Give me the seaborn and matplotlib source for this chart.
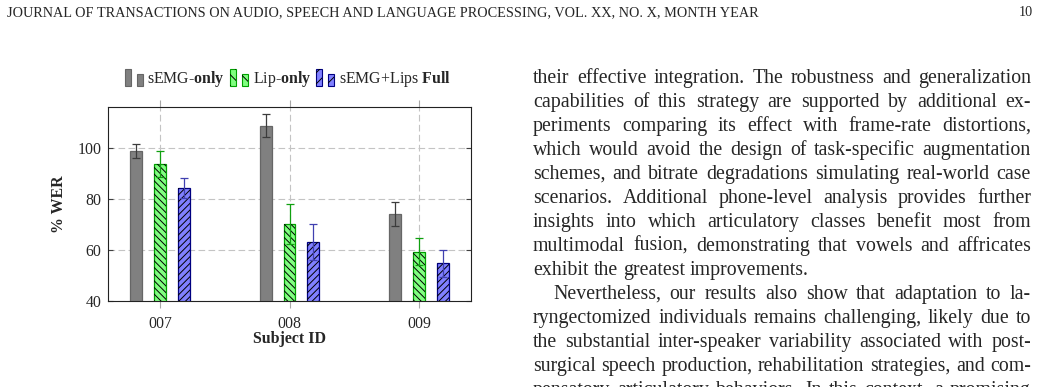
import matplotlib
matplotlib.use("Agg")
import matplotlib.pyplot as plt
import numpy as np
import pandas as pd
import seaborn as sns
from matplotlib.patches import Patch, Rectangle
from matplotlib.legend_handler import HandlerBase

W, H = 1042, 387

# data (% WER, mean and std)
SUBJECTS = ["007", "008", "009"]
METHODS = ["sEMG-only", "Lip-only", "sEMG+Lips Full"]
WER_SEMG = [98.8, 108.7, 74.1]
WER_LIP = [93.6, 70.1, 59.3]
WER_FULL = [84.2, 63.1, 54.8]
STD_SEMG = [2.6, 4.6, 4.6]
STD_LIP = [5.2, 7.8, 5.2]
STD_FULL = [3.8, 7.1, 5.3]
LEGEND_LABELS = ["sEMG-$\\mathbf{only}$", "Lip-$\\mathbf{only}$", "sEMG+Lips $\\mathbf{Full}$"]
Y_TICKS = [40, 60, 80, 100]

FACE = ["#808080", "#80ff80", "#8080ff"]
EDGE = ["#666666", "#00a000", "#000080"]
HATCH = ["", "\\\\\\\\\\", "/////"]
ERR = ["#3c3c3c", "#10a010", "#4040b0"]
CAP = ["#2a2a2a", "#1a1a1a", "#101060"]

HEADER = "JOURNAL OF TRANSACTIONS ON AUDIO, SPEECH AND LANGUAGE PROCESSING, VOL. XX, NO. X, MONTH YEAR"
PAGE = "10"
# (line, justified, indented)
BODY = [
    ("their effective integration. The robustness and generalization", True, False),
    ("capabilities of this strategy are supported by additional ex-", True, False),
    ("periments comparing its effect with frame-rate distortions,", True, False),
    ("which would avoid the design of task-specific augmentation", True, False),
    ("schemes, and bitrate degradations simulating real-world case", True, False),
    ("scenarios. Additional phone-level analysis provides further", True, False),
    ("insights into which articulatory classes benefit most from", True, False),
    ("multimodal fusion, demonstrating that vowels and affricates", True, False),
    ("exhibit the greatest improvements.", False, False),
    ("Nevertheless, our results also show that adaptation to la-", True, True),
    ("ryngectomized individuals remains challenging, likely due to", True, False),
    ("the substantial inter-speaker variability associated with post-", True, False),
    ("surgical speech production, rehabilitation strategies, and com-", True, False),
    ("pensatory articulatory behaviors. In this context, a promising", True, False),
]


class TwoBars(HandlerBase):
    # pgfplots style ybar legend image: two small bars of different height
    def create_artists(self, legend, orig_handle, xdescent, ydescent,
                       width, height, fontsize, trans):
        bw = width * 0.33
        y0 = -ydescent
        arts = []
        for x, hfrac in [(0.0, 1.0), (width * 0.67, 0.74)]:
            r = Rectangle((x - xdescent, y0), bw, height * hfrac,
                          facecolor=orig_handle.get_facecolor(),
                          edgecolor=orig_handle.get_edgecolor(), lw=0.8,
                          transform=trans)
            arts.append(r)
            if orig_handle.get_hatch():
                hr = Rectangle((x - xdescent, y0), bw, height * hfrac, fill=False,
                               edgecolor="black", lw=0, hatch=orig_handle.get_hatch()[:3],
                               transform=trans)
                arts.append(hr)
        return arts


def main():
    sns.set_style("white")
    plt.rcParams["font.family"] = ["Liberation Serif", "DejaVu Serif"]
    plt.rcParams["mathtext.fontset"] = "custom"
    plt.rcParams["mathtext.rm"] = "Liberation Serif"
    plt.rcParams["mathtext.bf"] = "Liberation Serif:bold"
    plt.rcParams["mathtext.it"] = "Liberation Serif:italic"
    plt.rcParams["hatch.linewidth"] = 0.7

    fig = plt.figure(figsize=(W / 100, H / 100), dpi=100)
    ax = fig.add_axes([108 / W, 1 - 301 / H, 363 / W, 194 / H])

    df = pd.DataFrame({
        "subject": SUBJECTS * 3,
        "method": np.repeat(METHODS, 3),
        "wer": WER_SEMG + WER_LIP + WER_FULL,
    })
    sns.barplot(data=df, x="subject", y="wer", hue="method", hue_order=METHODS,
                palette=FACE, saturation=1, width=0.555, gap=0.5, errorbar=None,
                legend=False, ax=ax, zorder=2)
    bars = list(ax.containers)
    means = [WER_SEMG, WER_LIP, WER_FULL]
    stds = [STD_SEMG, STD_LIP, STD_FULL]

    for i, cont in enumerate(bars):
        for p in cont:
            p.set_edgecolor(EDGE[i])
            p.set_linewidth(0.9)
            if HATCH[i]:
                ax.add_patch(Rectangle((p.get_x(), p.get_y()), p.get_width(), p.get_height(),
                                       fill=False, edgecolor="black", lw=0,
                                       hatch=HATCH[i], zorder=2.5))
        xs = [p.get_x() + p.get_width() / 2 for p in cont]
        eb = ax.errorbar(xs, means[i], yerr=stds[i], fmt="none", ecolor=ERR[i],
                         elinewidth=0.9, capsize=3, capthick=0.9, zorder=4)
        for cap in eb[1]:
            cap.set_color(CAP[i])

    ax.set_xlim(-0.4, 2.4)
    ax.set_ylim(40, 116)
    ax.set_yticks(Y_TICKS)
    ax.grid(True, color="#c4c4c4", linestyle=(0, (6, 3)), linewidth=0.8)
    ax.set_axisbelow(True)
    for s in ax.spines.values():
        s.set_color("#222222")
        s.set_linewidth(0.8)
    ax.tick_params(axis="x", direction="out", length=5, color="#a8a8a8",
                   top=True, bottom=True, labelsize=11.4, pad=5.5)
    ax.tick_params(axis="y", direction="in", length=3.5, color="#404040",
                   left=True, right=True, labelsize=11.4, pad=4.5)

    ax.set_xlabel("Subject ID", fontsize=11.4, fontweight="bold")
    ax.set_ylabel("% WER", fontsize=11.4, fontweight="bold")
    ax.xaxis.set_label_coords(0.5, -0.153)
    ax.yaxis.set_label_coords(-0.113, 0.5)

    handles = [Patch(facecolor=FACE[i], edgecolor=EDGE[i], hatch=HATCH[i]) for i in range(3)]
    ax.legend(handles, LEGEND_LABELS, handler_map={Patch: TwoBars()}, ncol=3,
              loc="center", bbox_to_anchor=(0.495, 1.145), frameon=False, fontsize=11.4,
              handlelength=1.14, handleheight=1.2, handletextpad=0.3,
              columnspacing=0.32, borderpad=0)

    # page header and body text on the right
    renderer = fig.canvas.get_renderer()
    head = fig.text(7 / W, 1 - 16 / H, HEADER, fontsize=9, va="baseline", ha="left")
    hw = head.get_window_extent(renderer).width
    hsize = 9 * 749 / hw
    head.set_fontsize(hsize)
    fig.text(1033 / W, 1 - 16 / H, PAGE, fontsize=hsize, va="baseline", ha="right")

    size = 14.3
    x0, x1 = 533, 1031
    probe = fig.text(0, 0, "a b", fontsize=size)
    probe2 = fig.text(0, 0, "ab", fontsize=size)
    space = probe.get_window_extent(renderer).width - probe2.get_window_extent(renderer).width
    probe.remove()
    probe2.remove()

    y = 83
    for line, just, indent in BODY:
        words = line.split(" ")
        start = x0 + (20 if indent else 0)
        texts = [fig.text(0, 1 - y / H, w, fontsize=size, va="baseline", ha="left") for w in words]
        widths = [t.get_window_extent(renderer).width for t in texts]
        gap = (x1 - start - sum(widths)) / (len(words) - 1) if just else space
        x = start
        for t, w in zip(texts, widths):
            t.set_x(x / W)
            x += w + gap
        y += 24

    fig.savefig("out.png", dpi=100)


if __name__ == "__main__":
    main()
